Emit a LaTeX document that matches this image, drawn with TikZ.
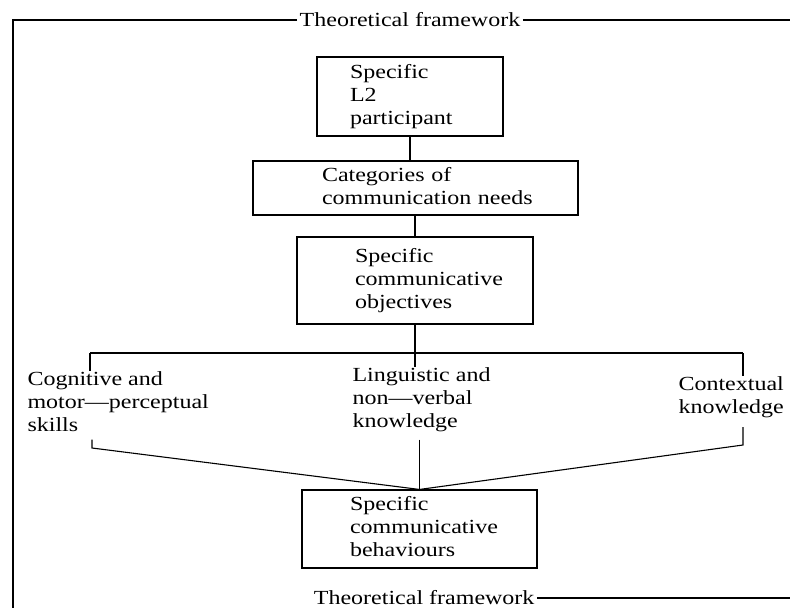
\documentclass[tikz,border=0pt]{standalone}
\usepackage{fontspec}
\setmainfont[FakeStretch=1.2]{Liberation Serif}
\newcommand\padtext[2]{\hspace*{#1}\begin{tabular}[c]{@{}l@{}}#2\end{tabular}}
\begin{document}
\begin{tikzpicture}[x=1pt,y=-1pt,line width=1.1pt,
  txt/.style={font=\fontsize{20}{23}\selectfont},
  box/.style={txt,draw,inner xsep=0pt,inner ysep=0pt,align=left},
  lbl/.style={txt,inner sep=0pt,align=left,anchor=west},
  ttl/.style={txt,inner xsep=2pt,inner ysep=0pt}]
\useasboundingbox (0,0) rectangle (790,608);
\clip (0,0) rectangle (790,608);
% frame
\node[ttl] (top) at (410,20) {Theoretical framework};
\coordinate (ftl) at (13,20);
\coordinate (ftr) at (790,20);
\coordinate (fbl) at (13,608);
\draw (top.west) -- (ftl) -- (fbl);
\draw (top.east) -- (ftr);
\node[ttl,anchor=east] (bot) at (537,598) {Theoretical framework};
\coordinate (fbr) at (790,598);
\draw (bot.east |- fbr) -- (fbr);
% boxes
\node[box,text width=186pt,minimum height=79pt] (b1) at (410,96.5) {\padtext{33pt}{Specific\\L2\\participant}};
\node[box,text width=325pt,minimum height=54pt] (b2) at (415.5,188) {\padtext{69pt}{Categories of\\communication needs}};
\node[box,text width=236pt,minimum height=87pt] (b3) at (415,280.5) {\padtext{58pt}{Specific\\communicative\\objectives}};
\node[box,text width=235pt,minimum height=78pt] (b4) at (419.5,529) {\padtext{48pt}{Specific\\communicative\\behaviours}};
% labels
\node[lbl] (cog) at (27,402) {Cognitive and\\motor---perceptual\\skills};
\node[lbl] (ling) at (352,400) {Linguistic and\\non---verbal\\knowledge};
\node[lbl] (ctx) at (678,397) {Contextual\\knowledge};
% upper connectors
\draw (b1.south) -- (b1.south |- b2.north);
\draw (b3.north |- b2.south) -- (b3.north);
\coordinate (bl) at (90,353);
\coordinate (br) at (743,353);
\draw (bl) -- (br);
\draw (b3.south) -- (b3.south |- ling.north);
\draw (bl) -- (bl |- cog.north);
\draw (br) -- (br |- ctx.north);
% lower connectors
\coordinate (cl) at (92,448);
\coordinate (cr) at (743,445);
\draw ([yshift=-7pt]cog.south -| cl) -- (cl) -- (b4.north);
\draw ([yshift=-7pt]ling.south -| b4.north) -- (b4.north);
\draw ([yshift=-9pt]ctx.south -| cr) -- (cr) -- (b4.north);
\end{tikzpicture}
\end{document}
